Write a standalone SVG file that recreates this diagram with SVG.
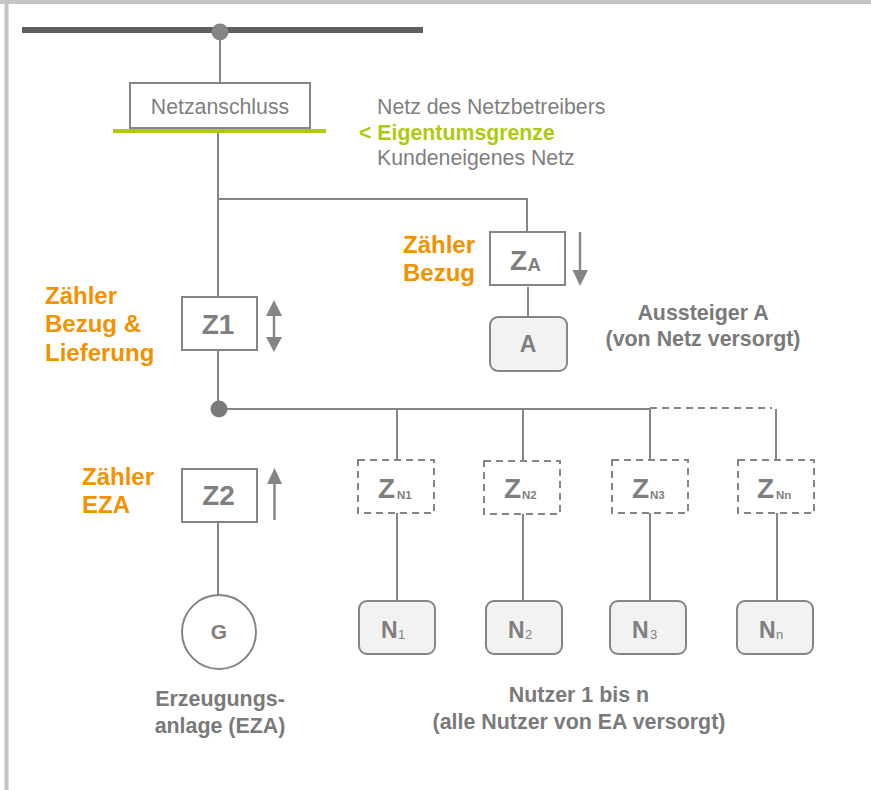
<svg xmlns="http://www.w3.org/2000/svg" width="871" height="790" viewBox="0 0 871 790">
<style>
text{font-family:"Liberation Sans",Arial,sans-serif;fill:#7f7f7f}
.o{font-weight:700;fill:#f39200;font-size:24px}
.l{font-size:21.300px}
.c{font-weight:700;font-size:21.400px;fill:#7a7a7a;text-anchor:middle}
.m{font-weight:700;font-size:28px}
.s{font-weight:700;font-size:11.500px}
.u{font-size:23px;font-weight:700}
.v{font-size:13px}
.line{fill:none;stroke:#858585;stroke-width:2}
.box{fill:#fff;stroke:#858585;stroke-width:2}
.dash{fill:#fff;stroke:#858585;stroke-width:2;stroke-dasharray:7 5}
.user{fill:#f2f2f2;stroke:#858585;stroke-width:2}
.arr{fill:none;stroke:#858585;stroke-width:2.400}
.head{fill:#858585;stroke:none}
</style>
<g id="frame"><path d="M0 2H871M6.500 2V790" fill="none" stroke="#c4c4c4" stroke-width="4"/></g>
<g id="connectors">
<rect x="22" y="27" width="401" height="6" fill="#5f5f5f"/>
<path class="line" d="M220 32V84M218 132V408M218 199H527V233M528 287V318M218 409H650M397 409V460M523 409V461M650 409V460M776 409V460M397 512V601M523 513V601M650 513V601M777 513V601M218 521V598"/>
<path class="line" d="M650 408H772" stroke-dasharray="7 5"/>
</g>
<g id="bus-dot"><circle cx="220" cy="32" r="8.500" fill="#858585"/></g>
<g id="junction"><circle cx="219" cy="409" r="8.500" fill="#7a7a7a"/></g>
<g id="netzanschluss"><rect class="box" x="130" y="83" width="180" height="45"/><text class="l" x="220" y="114" text-anchor="middle">Netzanschluss</text></g>
<g id="eigentumsgrenze-line"><rect x="113" y="129" width="213" height="4" fill="#b2cb07"/></g>
<g id="legend">
<text class="l" x="377" y="113.500">Netz des Netzbetreibers</text>
<text x="359" y="140" font-size="21.300" font-weight="700" style="fill:#afca0b">&lt; Eigentumsgrenze</text>
<text class="l" x="377" y="165">Kundeneigenes Netz</text>
</g>
<g id="z1"><rect class="box" x="182" y="297" width="75" height="53"/><text class="m" x="218" y="334" text-anchor="middle">Z1</text>
<path class="arr" d="M274 312V338"/><path class="head" d="M274 300L266 316H282ZM274 352L266 337H282Z"/></g>
<g id="z2"><rect class="box" x="182" y="469" width="75" height="53"/><text class="m" x="218.500" y="505" text-anchor="middle">Z2</text>
<path class="arr" d="M274.500 483V520"/><path class="head" d="M274.500 468L267 484H282Z"/></g>
<g id="za"><rect class="box" x="490" y="232" width="75" height="53"/><text class="m" x="510" y="270">Z</text><text x="527.500" y="271" font-size="18.500" font-weight="700">A</text>
<path class="arr" d="M580 232V272"/><path class="head" d="M580 286L572.500 270H588Z"/></g>
<g id="a"><rect class="user" x="490" y="317" width="77" height="54" rx="8"/><text class="u" x="528" y="352" text-anchor="middle">A</text></g>
<g id="zn1"><rect class="dash" x="358" y="460" width="76" height="53"/><text class="m" x="378" y="498">Z</text><text class="s" x="397" y="499">N1</text></g>
<g id="zn2"><rect class="dash" x="484" y="461" width="76" height="53"/><text class="m" x="504" y="498">Z</text><text class="s" x="522" y="499">N2</text></g>
<g id="zn3"><rect class="dash" x="612" y="460" width="76" height="53"/><text class="m" x="632" y="498">Z</text><text class="s" x="650" y="499">N3</text></g>
<g id="znn"><rect class="dash" x="738" y="460" width="76" height="53"/><text class="m" x="757" y="498">Z</text><text class="s" x="776" y="499">Nn</text></g>
<g id="n1"><rect class="user" x="359" y="601" width="76" height="53" rx="8"/><text class="u" x="381" y="638">N</text><text class="v" x="398" y="639">1</text></g>
<g id="n2"><rect class="user" x="486" y="601" width="76" height="53" rx="8"/><text class="u" x="508" y="638">N</text><text class="v" x="525" y="639">2</text></g>
<g id="n3"><rect class="user" x="610" y="601" width="76" height="53" rx="8"/><text class="u" x="632" y="638">N</text><text class="v" x="650" y="639">3</text></g>
<g id="nn"><rect class="user" x="737" y="601" width="76" height="53" rx="8"/><text class="u" x="759" y="638">N</text><text class="v" x="776" y="639">n</text></g>
<g id="g"><circle cx="219" cy="632" r="37" fill="#fff" stroke="#858585" stroke-width="2"/><text x="219" y="639" font-size="21" font-weight="700" text-anchor="middle">G</text></g>
<g id="labels">
<text class="o" x="403" y="253">Zähler</text><text class="o" x="403" y="281">Bezug</text>
<text class="o" x="45" y="304">Zähler</text><text class="o" x="45" y="332">Bezug &amp;</text><text class="o" x="45" y="361">Lieferung</text>
<text class="o" x="82" y="485">Zähler</text><text class="o" x="82" y="513">EZA</text>
<text class="c" x="703" y="320">Aussteiger A</text><text class="c" x="703" y="346">(von Netz versorgt)</text>
<text class="c" x="220" y="706">Erzeugungs-</text><text class="c" x="220" y="733">anlage (EZA)</text>
<text class="c" x="579" y="702">Nutzer 1 bis n</text><text class="c" x="579" y="729">(alle Nutzer von EA versorgt)</text>
</g>
</svg>
